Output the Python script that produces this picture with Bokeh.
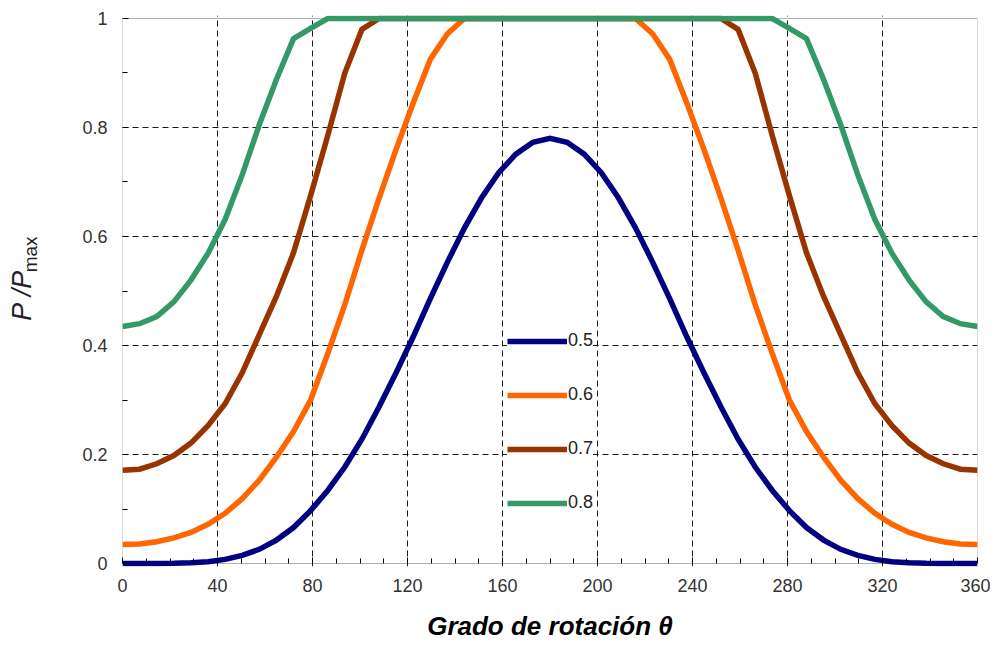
import math
from bokeh.plotting import figure
from bokeh.layouts import row
from bokeh.models import (Range1d, FixedTicker, NumeralTickFormatter, Legend, LegendItem,
                          BoxAnnotation)
from bokeh.core.properties import value
from bokeh.embed import file_html
from bokeh.resources import INLINE

theta = [0, 7.2, 14.4, 21.6, 28.8, 36, 43.2, 50.4, 57.6, 64.8, 72, 79.2, 86.4, 93.6, 100.8,
         108, 115.2, 122.4, 129.6, 136.8, 144, 151.2, 158.4, 165.6, 172.8, 180,
         187.2, 194.4, 201.6, 208.8, 216, 223.2, 230.4, 237.6, 244.8, 252, 259.2, 266.4,
         273.6, 280.8, 288, 295.2, 302.4, 309.6, 316.8, 324, 331.2, 338.4, 345.6, 352.8, 360]

p05 = [0, 0, 0.0001, 0.0003, 0.0012, 0.0034, 0.0076, 0.015, 0.026, 0.043, 0.066, 0.097, 0.134,
       0.177, 0.228, 0.287, 0.350, 0.416, 0.486, 0.553, 0.616, 0.671, 0.717, 0.751, 0.773, 0.780,
       0.773, 0.751, 0.717, 0.671, 0.616, 0.553, 0.486, 0.416, 0.350, 0.287, 0.228, 0.177, 0.134,
       0.097, 0.066, 0.043, 0.026, 0.015, 0.0076, 0.0034, 0.0012, 0.0003, 0.0001, 0, 0]

p06 = [0.035, 0.036, 0.040, 0.047, 0.057, 0.072, 0.092, 0.119, 0.153, 0.195, 0.242, 0.300, 0.385,
       0.475, 0.575, 0.670, 0.760, 0.845, 0.925, 0.972, 1.0, 1.0, 1.0, 1.0, 1.0, 1.0,
       1.0, 1.0, 1.0, 1.0, 1.0, 0.972, 0.925, 0.845, 0.760, 0.670, 0.575, 0.475, 0.385,
       0.300, 0.242, 0.195, 0.153, 0.119, 0.092, 0.072, 0.057, 0.047, 0.040, 0.036, 0.035]

p07 = [0.171, 0.173, 0.183, 0.198, 0.221, 0.253, 0.293, 0.350, 0.420, 0.490, 0.570, 0.675, 0.785,
       0.900, 0.980, 1.0, 1.0, 1.0, 1.0, 1.0, 1.0, 1.0, 1.0, 1.0, 1.0, 1.0,
       1.0, 1.0, 1.0, 1.0, 1.0, 1.0, 1.0, 1.0, 1.0, 1.0, 0.980, 0.900, 0.785,
       0.675, 0.570, 0.490, 0.420, 0.350, 0.293, 0.253, 0.221, 0.198, 0.183, 0.173, 0.171]

p08 = [0.435, 0.440, 0.453, 0.480, 0.520, 0.569, 0.631, 0.713, 0.805, 0.888, 0.963, 0.982, 1.0,
       1.0, 1.0, 1.0, 1.0, 1.0, 1.0, 1.0, 1.0, 1.0, 1.0, 1.0, 1.0, 1.0,
       1.0, 1.0, 1.0, 1.0, 1.0, 1.0, 1.0, 1.0, 1.0, 1.0, 1.0, 1.0, 1.0,
       0.982, 0.963, 0.888, 0.805, 0.713, 0.631, 0.569, 0.520, 0.480, 0.453, 0.440, 0.435]

series_labels = ["0.5", "0.6", "0.7", "0.8"]
series_values = [p05, p06, p07, p08]
series_colors = ["#000080", "#FF6600", "#993300", "#339966"]

x_ticks = [0, 40, 80, 120, 160, 200, 240, 280, 320, 360]
x_minor = [v for v in range(0, 361, 10) if v % 40 != 0]
y_ticks = [0, 0.2, 0.4, 0.6, 0.8, 1.0]
y_minor = [0.1, 0.3, 0.5, 0.7, 0.9]

FONT = "Liberation Sans"
TXT = "#222222"

# ---- main plot -------------------------------------------------------------
pad = 0.0055  # keeps the thick lines at 0 and 1 from being clipped by the frame
p = figure(width=930, height=650, output_backend="svg", toolbar_location=None,
           x_range=Range1d(0, 360), y_range=Range1d(-pad, 1 + pad),
           min_border_left=62, min_border_right=13, min_border_top=15, min_border_bottom=84)
p.outline_line_color = None
p.background_fill_color = "white"
p.border_fill_color = "white"

p.add_layout(BoxAnnotation(left=0, right=360, bottom=0, top=1, fill_alpha=0,
                           line_color="black", line_width=1, level="underlay"))

renderers = []
for vals, col in zip(series_values, series_colors):
    r = p.line(theta, vals, line_color=col, line_width=5.5, line_join="miter")
    renderers.append(r)

p.xaxis.ticker = FixedTicker(ticks=x_ticks, minor_ticks=x_minor)
p.yaxis.ticker = FixedTicker(ticks=y_ticks, minor_ticks=y_minor)
p.xgrid.ticker = FixedTicker(ticks=x_ticks[1:-1])
p.ygrid.ticker = FixedTicker(ticks=y_ticks[1:-1])
for g in (p.xgrid, p.ygrid):
    g.grid_line_color = "black"
    g.grid_line_dash = "6 4"
    g.grid_line_width = 1
    g.grid_line_alpha = 0.9

p.yaxis.formatter = NumeralTickFormatter(format="0.[0]")
for ax in (p.xaxis, p.yaxis):
    ax.axis_line_color = None
    ax.major_tick_line_color = "black"
    ax.minor_tick_line_color = "black"
    ax.major_label_text_font = FONT
    ax.major_label_text_font_size = "18px"
    ax.major_label_text_color = "#333333"

p.yaxis.major_tick_in = 6
p.yaxis.major_tick_out = 0
p.yaxis.minor_tick_in = 5
p.yaxis.minor_tick_out = 0
p.xaxis.major_tick_in = 9
p.xaxis.major_tick_out = -3
p.xaxis.minor_tick_in = 8
p.xaxis.minor_tick_out = -3
p.xaxis.major_label_standoff = 15
p.yaxis.major_label_standoff = 15

p.xaxis.axis_label = "Grado de rotación θ"
p.xaxis.axis_label_text_font = FONT
p.xaxis.axis_label_text_font_size = "26px"
p.xaxis.axis_label_text_font_style = "bold italic"
p.xaxis.axis_label_text_color = "black"
p.xaxis.axis_label_standoff = 16

legend = Legend(items=[LegendItem(label=l, renderers=[r]) for l, r in zip(series_labels, renderers)],
                location=(385, 53), orientation="vertical",
                glyph_width=60, glyph_height=20, label_height=20, label_standoff=1,
                spacing=33, padding=17, margin=0,
                border_line_color=None, background_fill_color="white", background_fill_alpha=1,
                label_text_font=FONT, label_text_font_size="18px", label_text_color=TXT)
p.add_layout(legend)

# ---- y-axis title (P / P_max) in a narrow strip to the left ----------------
lab = figure(width=60, height=650, output_backend="svg", toolbar_location=None, title=None,
             x_range=Range1d(0, 60), y_range=Range1d(0, 650),
             x_axis_type=None, y_axis_type=None, min_border=0)
lab.outline_line_color = None
lab.xgrid.visible = False
lab.ygrid.visible = False
lab.text(x=[21], y=[290], text=["P /P"], angle=math.pi / 2,
         text_font=value(FONT), text_font_style="italic", text_font_size="27px",
         text_color=TXT, text_align="left", text_baseline="alphabetic")
lab.text(x=[30], y=[347], text=["max"], angle=math.pi / 2,
         text_font=value(FONT), text_font_size="19px",
         text_color=TXT, text_align="left", text_baseline="alphabetic")

layout = row(lab, p, spacing=0)

open("out.html", "w").write(file_html(layout, INLINE))
